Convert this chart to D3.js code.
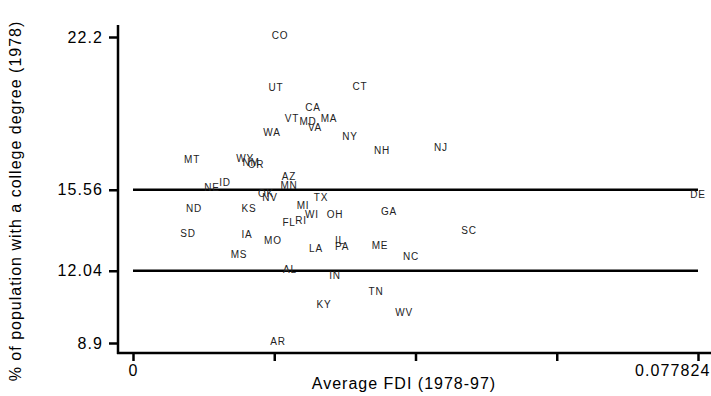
<!DOCTYPE html>
<html lang="en">
<head>
<meta charset="utf-8">
<title>FDI vs college degree</title>
<script src="https://d3js.org/d3.v7.min.js"></script>
<style>
  body { margin: 0; background: #fff; }
  text { font-family: "Liberation Sans", Arial, sans-serif; }
</style>
</head>
<body>
<script>
// state labels, average FDI 1978-97, % with college degree 1978
const states = ["CO","UT","CT","CA","VT","MD","MA","VA","WA","NY","NH","NJ","MT","WY","NM","OR",
  "AZ","MN","ID","NE","OK","NV","TX","ND","KS","MI","WI","OH","RI","FL","GA","SD","IA","MO",
  "SC","LA","IL","PA","ME","NC","MS","AL","IN","TN","KY","WV","AR","DE"];
const fdi = [0.02025,0.0197,0.03127,0.02479,0.0219,0.0241,0.027,0.02507,0.01915,0.02989,0.0343,0.04242,
  0.00813,0.01543,0.01625,0.01694,0.02149,0.02149,0.01267,0.01088,0.01832,0.01887,0.0259,0.0084,
  0.01598,0.02342,0.02466,0.02782,0.02314,0.02149,0.03526,0.00758,0.0157,0.01928,0.04628,0.02521,
  0.02851,0.02879,0.03402,0.03829,0.0146,0.02163,0.02782,0.03347,0.02631,0.03733,0.01997,0.077824];
const college = [22.2,19.9,19.98,19.07,18.59,18.46,18.59,18.2,17.98,17.81,17.2,17.33,16.81,16.85,16.68,16.55,
  16.07,15.64,15.77,15.59,15.33,15.12,15.12,14.64,14.64,14.77,14.38,14.38,14.12,14.03,14.51,13.59,
  13.55,13.25,13.72,12.9,13.25,12.99,13.03,12.59,12.68,11.99,11.73,11.07,10.47,10.16,8.9,15.25];

const yTicks = [8.9, 12.04, 15.56, 22.2];
const refLines = [15.56, 12.04];
const xTicks = [0, 0.019456, 0.038912, 0.058368, 0.077824];
const xTickLabels = ["0", "", "", "", "0.077824"];

const W = 711, H = 396;
const svg = d3.select("body").append("svg").attr("width", W).attr("height", H);

const x = d3.scaleLinear().domain([0, 0.077824]).range([133, 698]);
const y = d3.scaleLinear().domain([8.9, 22.2]).range([343, 37]);

const axisX = 118, axisY = 353;

// reference lines
svg.selectAll("line.ref").data(refLines).join("line")
  .attr("x1", x(0)).attr("x2", x(0.077824))
  .attr("y1", d => y(d)).attr("y2", d => y(d))
  .attr("stroke", "#000").attr("stroke-width", 2.5);

// y axis
const gy = svg.append("g").attr("transform", `translate(${axisX},0)`)
  .call(d3.axisLeft(y).tickValues(yTicks).tickSize(9).tickPadding(6).tickFormat(d => d));
gy.select(".domain").remove();
gy.selectAll(".tick line").attr("stroke-width", 2.5);
gy.selectAll(".tick text").attr("font-size", 16).attr("letter-spacing", "1.1px")
  .attr("fill", "#000").style("font-family", "'Liberation Sans', Arial, sans-serif");
svg.append("line").attr("x1", axisX).attr("x2", axisX).attr("y1", 25).attr("y2", axisY + 1)
  .attr("stroke", "#000").attr("stroke-width", 2.5);

// x axis
const gx = svg.append("g").attr("transform", `translate(0,${axisY})`)
  .call(d3.axisBottom(x).tickValues(xTicks).tickSize(8).tickPadding(4)
    .tickFormat((d, i) => xTickLabels[i]));
gx.select(".domain").remove();
gx.selectAll(".tick line").attr("stroke-width", 2.5);
gx.selectAll(".tick text").attr("font-size", 16).attr("letter-spacing", "1.1px")
  .attr("fill", "#000").style("font-family", "'Liberation Sans', Arial, sans-serif");
gx.selectAll(".tick text").filter((d, i) => i === xTicks.length - 1)
  .attr("text-anchor", "end").attr("dx", 12);
svg.append("line").attr("x1", axisX - 1).attr("x2", W).attr("y1", axisY).attr("y2", axisY)
  .attr("stroke", "#000").attr("stroke-width", 2.5);

// axis titles
svg.append("text").attr("x", 404).attr("y", 389).attr("text-anchor", "middle")
  .attr("font-size", 16).attr("letter-spacing", "1px").text("Average FDI (1978-97)");
svg.append("text").attr("transform", "translate(21,201) rotate(-90)").attr("text-anchor", "middle")
  .attr("font-size", 16).attr("letter-spacing", "1px")
  .text("% of population with a college degree (1978)");

// state labels
svg.append("g").selectAll("text").data(states).join("text")
  .attr("x", (d, i) => x(fdi[i]))
  .attr("y", (d, i) => y(college[i]) - 2)
  .attr("text-anchor", "middle").attr("dominant-baseline", "central")
  .attr("font-size", 10).attr("letter-spacing", "0.8px").attr("fill", "#222")
  .text(d => d);
</script>
</body>
</html>
